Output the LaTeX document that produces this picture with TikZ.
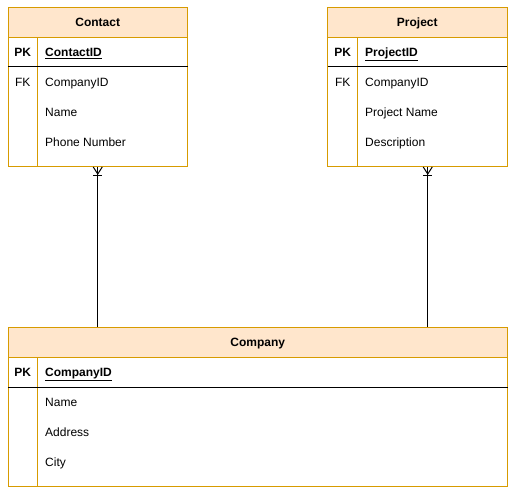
\documentclass[tikz,border=0pt]{standalone}
\usepackage{fontspec}
\setmainfont{Liberation Sans}
\usepackage{xcolor}
\usetikzlibrary{positioning}
\definecolor{hdrfill}{HTML}{FFE6CC}
\definecolor{hdrline}{HTML}{D79B00}

\begin{document}
\begin{tikzpicture}[x=1pt, y=-1pt,
  txt/.style={text height=8.6pt, text depth=0pt},
  tblhead/.style={draw=hdrline, fill=hdrfill, line width=1pt, minimum height=30pt, txt,
                  inner sep=0pt, outer sep=0pt, font=\fontsize{12}{14}\selectfont\bfseries},
  tblbody/.style={draw=hdrline, fill=white, line width=1pt, anchor=north,
                  inner sep=0pt, outer sep=0pt},
  keycol/.style={inner sep=0pt, txt, font=\fontsize{12}{14}\selectfont\bfseries},
  fkcol/.style={inner sep=0pt, txt, font=\fontsize{12}{14}\selectfont},
  fld/.style={anchor=west, inner sep=0pt, txt, font=\fontsize{12}{14}\selectfont},
  pkline/.style={black, line width=1pt},
  colline/.style={hdrline, line width=1pt},
  rel/.style={black, line width=1pt},
  crowfoot/.pic={\draw[rel] (-4.5,0) -- (0,7) -- (4.5,0);
                 \draw[rel] (-4.5,9) -- (4.5,9);}]
\useasboundingbox (0,0) rectangle (515,495);

% Contact
\node[tblhead, minimum width=179.5pt] (contact) at (97.75,22.5) {Contact};
\node[tblbody, minimum width=179.5pt, minimum height=129.5pt] (contactbody) at (contact.south) {};
\draw[colline] (37.5,37.5) -- (37.5,167);
\draw[pkline] (contactbody.west |- 0,67) -- (contactbody.east |- 0,67);
\node[keycol] (contactpk) at (22.75,52) {PK};
\node[fld, font=\fontsize{12}{14}\selectfont\bfseries] (contactid) at (45,52) {\underline{ContactID}};
\node[fkcol] (contactfk) at (22.75,82) {FK};
\foreach \y/\t [count=\i] in {82/CompanyID, 112/Name, 142/Phone Number}
  \node[fld] (contactf\i) at (45,\y) {\t};

% Project
\node[tblhead, minimum width=179.5pt] (project) at (417.25,22.5) {Project};
\node[tblbody, minimum width=179.5pt, minimum height=129.5pt] (projectbody) at (project.south) {};
\draw[colline] (357.5,37.5) -- (357.5,167);
\draw[pkline] (projectbody.west |- 0,67) -- (projectbody.east |- 0,67);
\node[keycol] (projectpk) at (342.75,52) {PK};
\node[fld, font=\fontsize{12}{14}\selectfont\bfseries] (projectid) at (365,52) {\underline{ProjectID}};
\node[fkcol] (projectfk) at (342.75,82) {FK};
\foreach \y/\t [count=\i] in {82/CompanyID, 112/Project Name, 142/Description}
  \node[fld] (projectf\i) at (365,\y) {\t};

% Company
\node[tblhead, minimum width=499.5pt] (company) at (257.75,342.3) {Company};
\node[tblbody, minimum width=499.5pt, minimum height=129.5pt] (companybody) at (company.south) {};
\draw[colline] (37.5,357.3) -- (37.5,486.8);
\draw[pkline] (companybody.west |- 0,387.3) -- (companybody.east |- 0,387.3);
\node[keycol] (companypk) at (22.75,372.3) {PK};
\node[fld, font=\fontsize{12}{14}\selectfont\bfseries] (companyid) at (45,372.3) {\underline{CompanyID}};
\foreach \y/\t [count=\i] in {402.3/Name, 432.3/Address, 462.3/City}
  \node[fld] (companyf\i) at (45,\y) {\t};

% relations
\coordinate (cfoot) at (contactbody.south);
\coordinate (pfoot) at ([xshift=10.5pt]projectbody.south);
\draw[rel] (cfoot) -- (company.north -| cfoot);
\draw[rel] (pfoot) -- (company.north -| pfoot);
\pic at (cfoot) {crowfoot};
\pic at (pfoot) {crowfoot};
\end{tikzpicture}
\end{document}
